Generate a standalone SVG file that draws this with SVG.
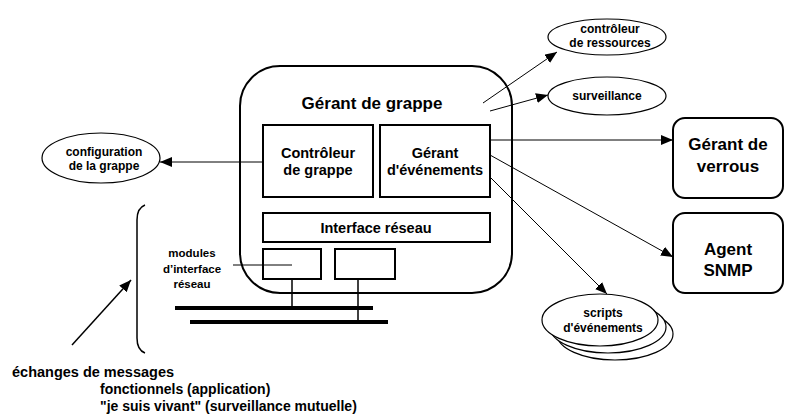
<svg xmlns="http://www.w3.org/2000/svg" width="785" height="417" viewBox="0 0 785 417">
<defs>
<marker id="ah" markerUnits="userSpaceOnUse" markerWidth="14" markerHeight="12" refX="12" refY="5" orient="auto">
<path d="M0,0 L12,5 L0,10 Z" fill="#000"/>
</marker>
<style>
text{font-family:"Liberation Sans",Arial,sans-serif;font-weight:bold;fill:#000;text-anchor:middle}
.box{fill:#fff;stroke:#000;stroke-width:2}
.ell{fill:#fff;stroke:#000;stroke-width:1.2}
.con{fill:none;stroke:#000;stroke-width:1;marker-end:url(#ah)}
.bus{stroke:#000;stroke-width:4}
.thin{stroke:#000;stroke-width:1.5;fill:none}
</style>
</defs>
<rect width="785" height="417" fill="#fff"/>

<g id="gerant-grappe">
<rect class="box" x="240" y="66" width="272" height="227" rx="40" ry="40"/>
<text x="372" y="109" font-size="17">Gérant de grappe</text>
</g>
<g id="controleur-grappe">
<rect class="box" x="263" y="125" width="110" height="72"/>
<text x="318" y="158" font-size="14.5">Contrôleur</text>
<text x="318" y="175" font-size="14.5">de grappe</text>
</g>
<g id="gerant-evenements">
<rect class="box" x="380" y="125" width="110" height="72"/>
<text x="435" y="158" font-size="14.5">Gérant</text>
<text x="435" y="175" font-size="14.5">d'événements</text>
</g>
<g id="interface-reseau">
<rect class="box" x="263" y="213" width="227" height="29"/>
<text x="376" y="233" font-size="14.5">Interface réseau</text>
</g>
<g id="module1">
<rect class="box" x="263" y="249" width="58" height="30"/>
</g>
<g id="module2">
<rect class="box" x="335" y="249" width="60" height="30"/>
</g>
<g id="bus">
<line class="thin" x1="292" y1="279" x2="292" y2="308"/>
<line class="thin" x1="358" y1="279" x2="358" y2="322"/>
<line class="bus" x1="175" y1="308" x2="373" y2="308"/>
<line class="bus" x1="190" y1="322" x2="388" y2="322"/>
</g>
<g id="modules-label">
<text x="192" y="257" font-size="11.5">modules</text>
<text x="192" y="273" font-size="11.5">d’interface</text>
<text x="192" y="288" font-size="11.5">réseau</text>
<line stroke="#000" stroke-width="1" x1="233" y1="265" x2="292" y2="265"/>
</g>
<g id="configuration">
<ellipse class="ell" cx="101" cy="158" rx="59" ry="25"/>
<text x="104" y="156" font-size="12">configuration</text>
<text x="104" y="170" font-size="12">de la grappe</text>
</g>
<g id="controleur-ressources">
<ellipse class="ell" cx="607" cy="37" rx="59" ry="18"/>
<text x="610" y="33" font-size="12">contrôleur</text>
<text x="610" y="47" font-size="12">de ressources</text>
</g>
<g id="surveillance">
<ellipse class="ell" cx="607" cy="96" rx="59" ry="19"/>
<text x="607" y="100" font-size="12">surveillance</text>
</g>
<g id="gerant-verrous">
<rect class="box" x="673" y="118" width="110" height="80" rx="12" ry="12"/>
<text x="728" y="150" font-size="17">Gérant de</text>
<text x="728" y="172" font-size="17">verrous</text>
</g>
<g id="agent-snmp">
<rect class="box" x="673" y="213" width="110" height="80" rx="12" ry="12"/>
<text x="728" y="255" font-size="17">Agent</text>
<text x="728" y="276" font-size="17">SNMP</text>
</g>
<g id="scripts">
<ellipse class="ell" cx="615" cy="334" rx="58" ry="26"/>
<ellipse class="ell" cx="608" cy="327" rx="58" ry="26"/>
<ellipse class="ell" cx="600" cy="320" rx="58" ry="26"/>
<text x="603" y="317" font-size="12">scripts</text>
<text x="603" y="332" font-size="12">d'événements</text>
</g>
<g id="echanges">
<path class="thin" d="M145,205 Q137,208 137,220 L137,338 Q137,350 145,353"/>
<text x="12" y="377" font-size="14.5" style="text-anchor:start">échanges de messages</text>
<text x="100" y="394" font-size="14" style="text-anchor:start">fonctionnels (application)</text>
<text x="100" y="411" font-size="14" style="text-anchor:start">"je suis vivant" (surveillance mutuelle)</text>
</g>
<g id="connectors">
<line class="con" x1="263" y1="162" x2="160" y2="162"/>
<line class="con" x1="483" y1="103" x2="557" y2="52"/>
<line class="con" x1="490" y1="111" x2="548" y2="95"/>
<line class="con" x1="490" y1="140" x2="673" y2="140"/>
<line class="con" x1="490" y1="155" x2="673" y2="257"/>
<line class="con" x1="490" y1="177" x2="607" y2="294"/>
<line stroke="#000" stroke-width="1.5" marker-end="url(#ah)" x1="72" y1="345" x2="131" y2="280"/>
</g>
</svg>
